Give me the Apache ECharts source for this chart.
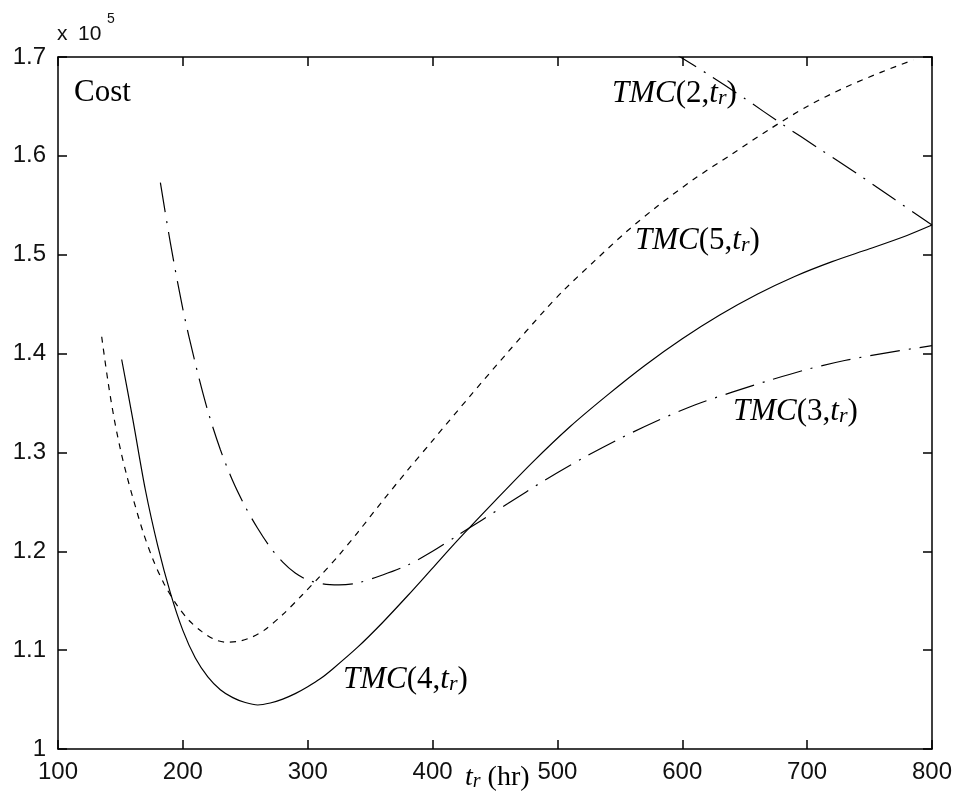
<!DOCTYPE html>
<html>
<head>
<meta charset="utf-8">
<script src="https://cdn.jsdelivr.net/npm/echarts@6/dist/echarts.min.js"></script>
<style>
html,body{margin:0;padding:0;background:#fff;}
#chart{width:956px;height:794px;}
</style>
</head>
<body>
<div id="chart"></div>
<script>
// x-axis ticks and y-axis ticks (cost in units of 1e5)
const xTicks = [100, 200, 300, 400, 500, 600, 700, 800];
const yTicks = [1, 1.1, 1.2, 1.3, 1.4, 1.5, 1.6, 1.7];

// TMC(2, t_r) - dash-dot
const tmc2X = [592, 620, 650, 680, 710, 740, 770, 800];
const tmc2Y = [1.705, 1.683, 1.658, 1.632, 1.607, 1.582, 1.556, 1.530];

// TMC(3, t_r) - dash-dot
const tmc3X = [182, 190, 200, 210, 220, 230, 240, 250, 260, 270, 280, 290, 300, 312, 325, 340, 360, 380, 400, 420, 440, 460, 490, 520, 550, 580, 610, 640, 670, 700, 730, 760, 800];
const tmc3Y = [1.573, 1.512, 1.445, 1.390, 1.342, 1.303, 1.271, 1.245, 1.223, 1.204, 1.189, 1.178, 1.171, 1.167, 1.166, 1.168, 1.176, 1.186, 1.200, 1.216, 1.232, 1.248, 1.272, 1.294, 1.314, 1.332, 1.348, 1.361, 1.373, 1.384, 1.393, 1.400, 1.408];

// TMC(4, t_r) - solid
const tmc4X = [151, 160, 170, 180, 190, 200, 210, 220, 230, 240, 250, 260, 270, 280, 290, 300, 310, 320, 340, 360, 380, 400, 420, 450, 480, 510, 540, 570, 600, 630, 660, 690, 720, 750, 780, 800];
const tmc4Y = [1.394, 1.333, 1.262, 1.205, 1.158, 1.120, 1.092, 1.073, 1.060, 1.052, 1.047, 1.0445, 1.0465, 1.0505, 1.056, 1.063, 1.071, 1.081, 1.103, 1.128, 1.155, 1.183, 1.211, 1.251, 1.290, 1.326, 1.358, 1.388, 1.415, 1.439, 1.460, 1.478, 1.493, 1.506, 1.5195, 1.530];

// TMC(5, t_r) - dashed
const tmc5X = [135, 140, 145, 150, 155, 160, 168, 176, 185, 195, 205, 215, 225, 235, 245, 255, 265, 280, 295, 310, 325, 340, 360, 380, 400, 430, 460, 490, 505, 530, 555, 580, 610, 640, 670, 700, 730, 760, 785];
const tmc5Y = [1.417, 1.372, 1.334, 1.303, 1.277, 1.254, 1.220, 1.192, 1.167, 1.146, 1.130, 1.119, 1.111, 1.108, 1.109, 1.113, 1.120, 1.136, 1.155, 1.175, 1.196, 1.219, 1.251, 1.282, 1.312, 1.357, 1.401, 1.444, 1.464, 1.494, 1.523, 1.549, 1.577, 1.602, 1.627, 1.650, 1.669, 1.685, 1.697];

const zip = (xs, ys) => xs.map((x, i) => [x, ys[i]]);

const chart = echarts.init(document.getElementById('chart'), null, {renderer: 'canvas'});

const sans = '"Liberation Sans", Arial, sans-serif';
const tickFont = {fontFamily: sans, fontSize: 24, color: '#111'};
const axisLineStyle = {color: '#000', width: 1.5};

const serif = '"Liberation Serif", "Times New Roman", serif';
const rich = {
  i: {fontFamily: serif, fontStyle: 'italic', fontSize: 31, lineHeight: 31, color: '#000'},
  n: {fontFamily: serif, fontSize: 31, lineHeight: 31, color: '#000'},
  s: {fontFamily: serif, fontStyle: 'italic', fontSize: 22, lineHeight: 18, verticalAlign: 'bottom', color: '#000'}
};
const richAx = {
  i: {fontFamily: serif, fontStyle: 'italic', fontSize: 28, lineHeight: 28, color: '#000'},
  n: {fontFamily: serif, fontSize: 28, lineHeight: 28, color: '#000'},
  s: {fontFamily: serif, fontStyle: 'italic', fontSize: 20, lineHeight: 16, verticalAlign: 'bottom', color: '#000'}
};

function tmcLabel(n, left, midY) {
  return {
    type: 'text', left: left, top: midY - 15.5, z: 100,
    style: {text: '{i|TMC}{n|(' + n + ',}{i|t}{s|r}{n|)}', rich: rich}
  };
}

const lineBase = (name, xs, ys, type) => ({
  name: name, type: 'line', data: zip(xs, ys), showSymbol: false, symbol: 'none',
  smooth: 0.3, clip: true,
  lineStyle: {color: '#000', width: 1.2, type: type},
  animation: false
});

const tickStyle = {show: true, inside: true, length: 9, lineStyle: {color: '#000', width: 1.5}};

const option = {
  backgroundColor: '#fff',
  animation: false,
  grid: {left: 58, right: 24, top: 57, bottom: 45, containLabel: false},
  xAxis: [{
    type: 'value', min: xTicks[0], max: xTicks[xTicks.length - 1], interval: 100,
    axisLine: {show: true, lineStyle: axisLineStyle},
    axisTick: tickStyle,
    axisLabel: Object.assign({margin: 11}, tickFont),
    splitLine: {show: false}
  }, {
    type: 'value', position: 'top', min: xTicks[0], max: xTicks[xTicks.length - 1], interval: 100,
    axisLine: {show: true, lineStyle: axisLineStyle},
    axisTick: tickStyle,
    axisLabel: {show: false}, splitLine: {show: false}
  }],
  yAxis: [{
    type: 'value', min: yTicks[0], max: yTicks[yTicks.length - 1], interval: 0.1,
    axisLine: {show: true, lineStyle: axisLineStyle},
    axisTick: tickStyle,
    axisLabel: Object.assign({margin: 12, formatter: v => String(Number(v.toFixed(1)))}, tickFont),
    splitLine: {show: false}
  }, {
    type: 'value', position: 'right', min: yTicks[0], max: yTicks[yTicks.length - 1], interval: 0.1,
    axisLine: {show: true, lineStyle: axisLineStyle},
    axisTick: tickStyle,
    axisLabel: {show: false}, splitLine: {show: false}
  }],
  series: [
    lineBase('TMC(2,tr)', tmc2X, tmc2Y, [28, 9, 2, 9]),
    lineBase('TMC(3,tr)', tmc3X, tmc3Y, [30, 9, 2, 9]),
    lineBase('TMC(4,tr)', tmc4X, tmc4Y, 'solid'),
    lineBase('TMC(5,tr)', tmc5X, tmc5Y, [6, 6])
  ],
  graphic: [
    {type: 'text', left: 57, top: 24, style: {text: 'x', fontFamily: sans, fontSize: 21, fill: '#111'}},
    {type: 'text', left: 78, top: 24, style: {text: '10', fontFamily: sans, fontSize: 21, fill: '#111'}},
    {type: 'text', left: 107, top: 12, style: {text: '5', fontFamily: sans, fontSize: 14, fill: '#111'}},
    {type: 'text', left: 74, top: 77, style: {text: 'Cost', fontFamily: serif, fontSize: 31, fill: '#000'}},
    tmcLabel(2, 612, 93.5),
    tmcLabel(5, 635, 240.5),
    tmcLabel(3, 733, 411.5),
    tmcLabel(4, 343, 679.5),
    {type: 'text', left: 465, top: 763.5, z: 100,
     style: {text: '{i|t}{s|r}{n| (hr)}', rich: richAx}}
  ]
};
chart.setOption(option);
</script>
</body>
</html>
